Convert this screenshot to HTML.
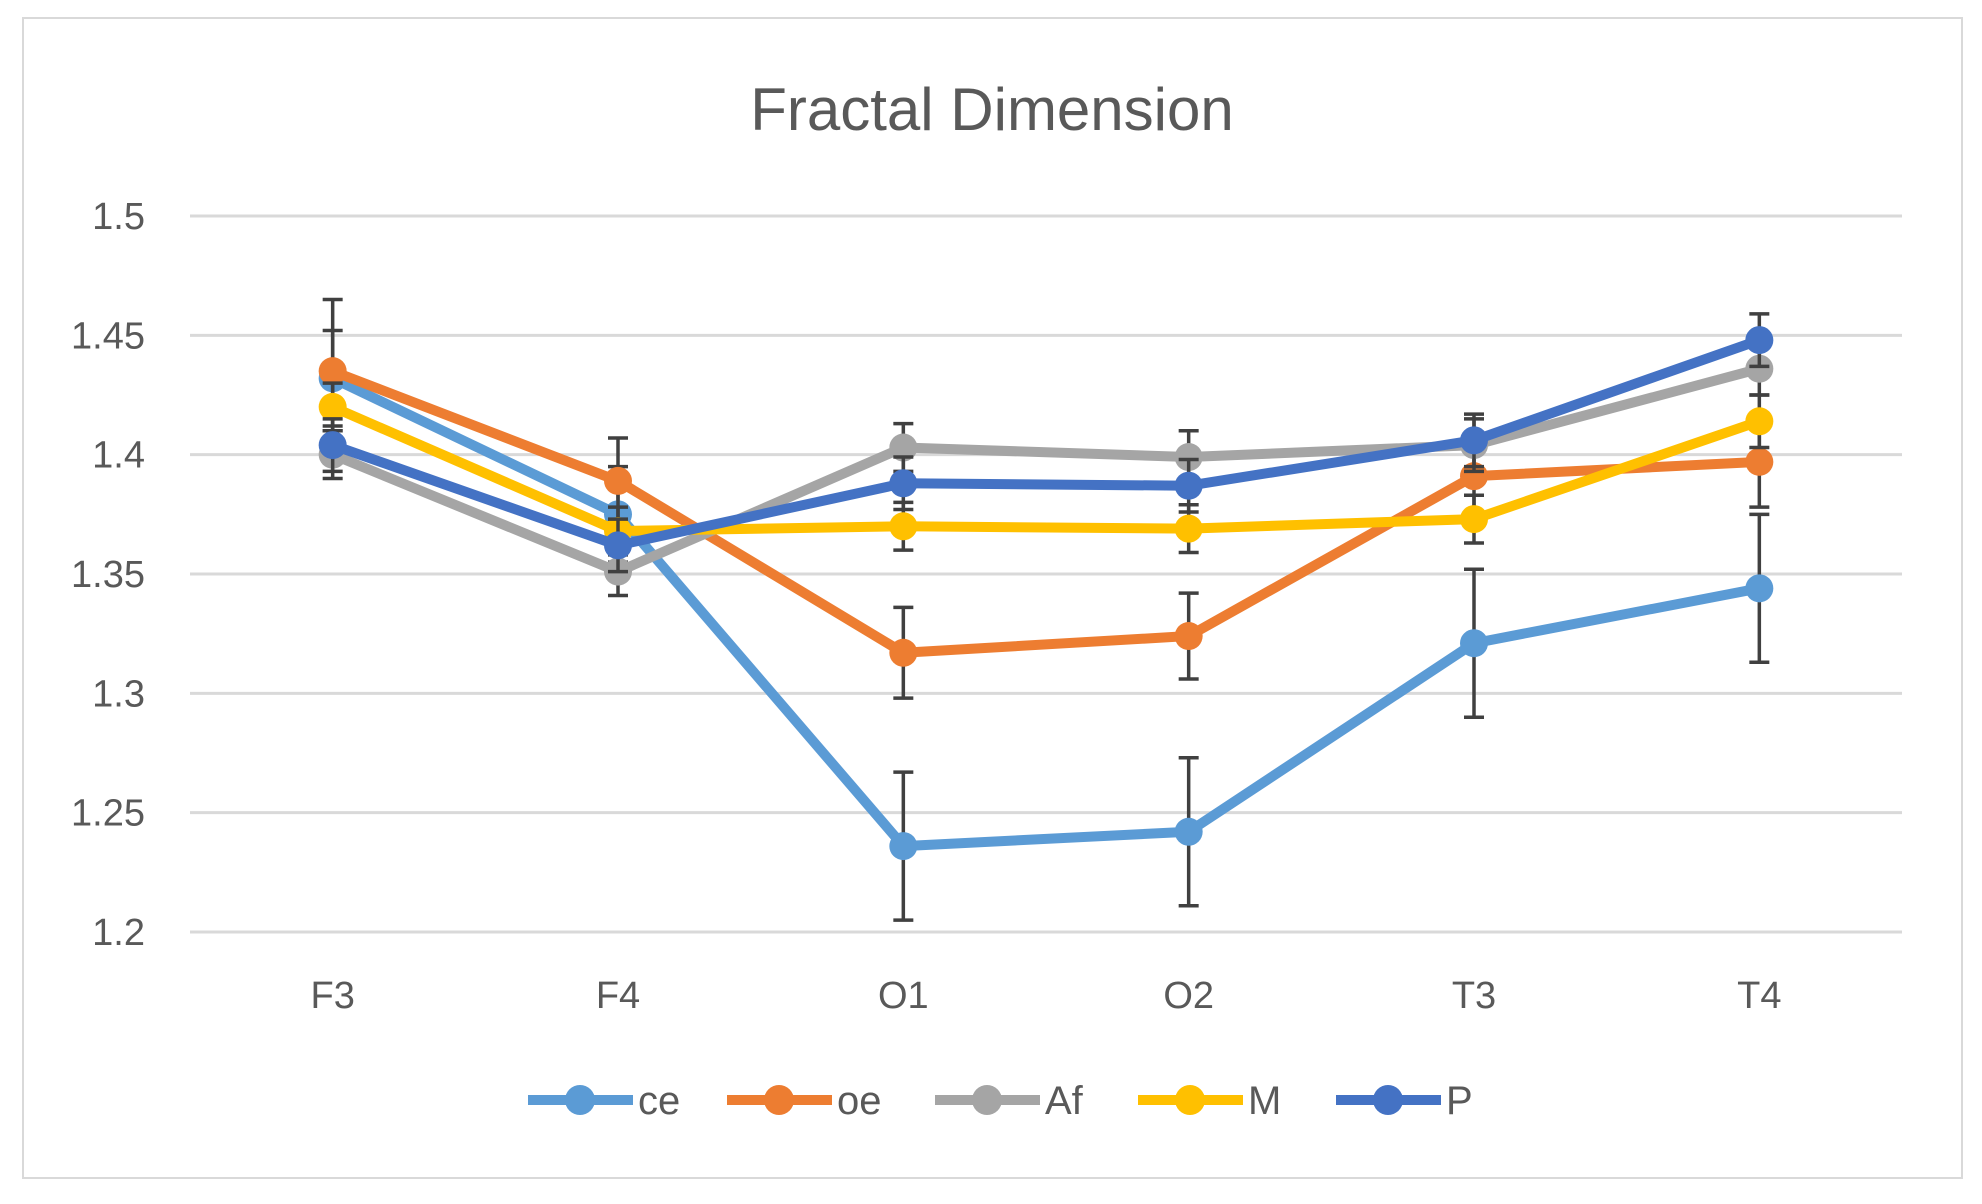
<!DOCTYPE html>
<html><head><meta charset="utf-8"><style>
html,body{margin:0;padding:0;background:#fff;}
svg{display:block;font-family:"Liberation Sans",sans-serif;}
</style></head><body>
<svg id="chart" width="1982" height="1204" viewBox="0 0 1982 1204">
<rect x="23" y="18" width="1939" height="1160" fill="#fff" stroke="#d9d9d9" stroke-width="2"/>
<text x="992" y="130" text-anchor="middle" font-size="60" fill="#595959">Fractal Dimension</text>
<g id="grid"></g><g id="yticks"></g><g id="xticks"></g><g id="series"></g><g id="legend"></g>
</svg>
<script>
const categories = ["F3","F4","O1","O2","T3","T4"];
const yTicks = [1.2,1.25,1.3,1.35,1.4,1.45,1.5];
const yTickLabels = ["1.2","1.25","1.3","1.35","1.4","1.45","1.5"];
const seriesNames = ["ce","oe","Af","M","P"];
const ceValues = [1.432,1.375,1.236,1.242,1.321,1.344];
const ceErrors = [0.02,0.02,0.031,0.031,0.031,0.031];
const oeValues = [1.435,1.389,1.317,1.324,1.391,1.397];
const oeErrors = [0.03,0.018,0.019,0.018,0.018,0.019];
const afValues = [1.400,1.351,1.403,1.399,1.404,1.436];
const afErrors = [0.01,0.01,0.01,0.011,0.011,0.011];
const mValues = [1.420,1.368,1.370,1.369,1.373,1.414];
const mErrors = [0.01,0.01,0.01,0.01,0.01,0.011];
const pValues = [1.404,1.362,1.388,1.387,1.406,1.448];
const pErrors = [0.011,0.011,0.011,0.011,0.011,0.011];

const colors = ["#5B9BD5","#ED7D31","#A5A5A5","#FFC000","#4472C4"];
const allValues = [ceValues,oeValues,afValues,mValues,pValues];
const allErrors = [ceErrors,oeErrors,afErrors,mErrors,pErrors];
const NS="http://www.w3.org/2000/svg";
const X0=190,X1=1902,Ytop=216,Ybot=932,vMin=1.2,vMax=1.5;
const band=(X1-X0)/categories.length;
const xPos=i=>X0+band*(i+0.5);
const yPos=v=>Ybot-(v-vMin)/(vMax-vMin)*(Ybot-Ytop);
function mk(tag,attrs,parent){const e=document.createElementNS(NS,tag);for(const k in attrs)e.setAttribute(k,attrs[k]);parent.appendChild(e);return e;}
const grid=document.getElementById('grid'),yt=document.getElementById('yticks'),xt=document.getElementById('xticks'),sg=document.getElementById('series'),lg=document.getElementById('legend');
yTicks.forEach((v,i)=>{
  const l=mk('line',{x1:X0,x2:X1,y1:yPos(v),y2:yPos(v),stroke:'#d9d9d9','stroke-width':3},grid);
  
  
  const t=mk('text',{x:145,y:yPos(v)+13,'text-anchor':'end','font-size':38,fill:'#595959'},yt);
  t.textContent=yTickLabels[i];
  
  
});
categories.forEach((c,i)=>{
  const t=mk('text',{x:xPos(i),y:1008,'text-anchor':'middle','font-size':38,fill:'#595959'},xt);
  t.textContent=c;
  
  
});
allValues.forEach((vals,s)=>{
  const g=mk('g',{},sg);
  
  
  vals.forEach((v,i)=>{
    const e=allErrors[s][i],x=xPos(i);
    const eb=mk('path',{d:`M${x},${yPos(v+e)}V${yPos(v-e)}M${x-10},${yPos(v+e)}h20M${x-10},${yPos(v-e)}h20`,stroke:'#404040','stroke-width':3.5,fill:'none'},g);
    
    
  });
  const pl=mk('polyline',{points:vals.map((v,i)=>xPos(i)+','+yPos(v)).join(' '),fill:'none',stroke:colors[s],'stroke-width':10,'stroke-linejoin':'round'},g);
  
  
  vals.forEach((v,i)=>{
    const c=mk('circle',{cx:xPos(i),cy:yPos(v),r:14,fill:colors[s]},g);
    
    
  });
});
const legX=[528,727,935,1138,1336];
seriesNames.forEach((n,s)=>{
  const g=mk('g',{},lg);
  
  
  const x=legX[s],y=1100;
  mk('line',{x1:x,x2:x+105,y1:y,y2:y,stroke:colors[s],'stroke-width':10},g);
  mk('circle',{cx:x+52,cy:y,r:15,fill:colors[s]},g);
  const t=mk('text',{x:x+110,y:y+14,'font-size':40,fill:'#595959'},g);
  t.textContent=n;
});
</script>
</body></html>
